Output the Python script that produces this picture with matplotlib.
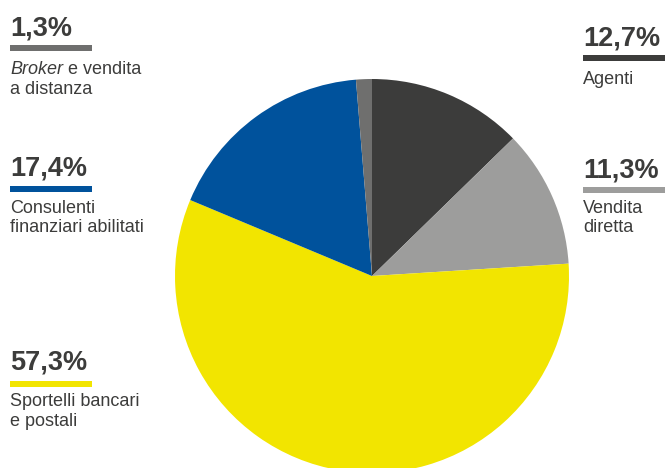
import matplotlib.pyplot as plt
from matplotlib.patches import Rectangle

plt.rcParams['font.family'] = ['Liberation Sans', 'DejaVu Sans']

# Quote per canale distributivo (in senso orario dall'alto)
labels = ['Agenti', 'Vendita\ndiretta', 'Sportelli bancari\ne postali',
          'Consulenti\nfinanziari abilitati', 'Broker e vendita\na distanza']
values = [12.7, 11.3, 57.3, 17.4, 1.3]
colors = ['#3c3c3b', '#9d9d9c', '#f2e500', '#00529c', '#6f6f6e']

W, H = 665, 468
fig = plt.figure(figsize=(W / 100, H / 100), dpi=100)

# Torta: centro (372, 276) px, raggio 197 px
cx, cy, r = 372, 276, 197
ax_pie = fig.add_axes([(cx - r) / W, (H - cy - r) / H, 2 * r / W, 2 * r / H])
ax_pie.pie(values, colors=colors, startangle=90, counterclock=False,
           wedgeprops=dict(linewidth=0))
ax_pie.set_xlim(-1, 1)
ax_pie.set_ylim(-1, 1)
ax_pie.axis('off')

# Asse per le etichette in coordinate pixel
ax = fig.add_axes([0, 0, 1, 1])
ax.set_xlim(0, W)
ax.set_ylim(H, 0)
ax.axis('off')

txt_col = '#3c3c3b'
fs_pct, fs_lab = 19.5, 13
# (x, baseline percentuale, y barra, baseline prima riga testo)
pos = [(583, 45, 55, 84),
       (583, 178, 187, 213),
       (10, 370, 381, 406),
       (10, 175, 186, 213),
       (10, 36, 45, 74)]

for i, (x, yp, yb, yt) in enumerate(pos):
    pct = f'{values[i]:.1f}%'.replace('.', ',')
    ax.text(x, yp, pct, fontsize=fs_pct, fontweight='bold', color=txt_col,
            va='baseline', ha='left')
    ax.add_patch(Rectangle((x, yb), 82, 6, color=colors[i], lw=0))
    if i == 4:
        t = ax.text(x, yt, 'Broker', fontsize=fs_lab, style='italic',
                    color=txt_col, va='baseline', ha='left')
        ax.annotate(' e vendita', xy=(1, 0), xycoords=t, fontsize=fs_lab,
                    color=txt_col, va='bottom', ha='left')
        ax.text(x, yt + 19.5, 'a distanza', fontsize=fs_lab, color=txt_col,
                va='baseline', ha='left')
    else:
        for j, line in enumerate(labels[i].split('\n')):
            ax.text(x, yt + 19.5 * j, line, fontsize=fs_lab, color=txt_col,
                    va='baseline', ha='left')

fig.savefig('out.png', dpi=100)
